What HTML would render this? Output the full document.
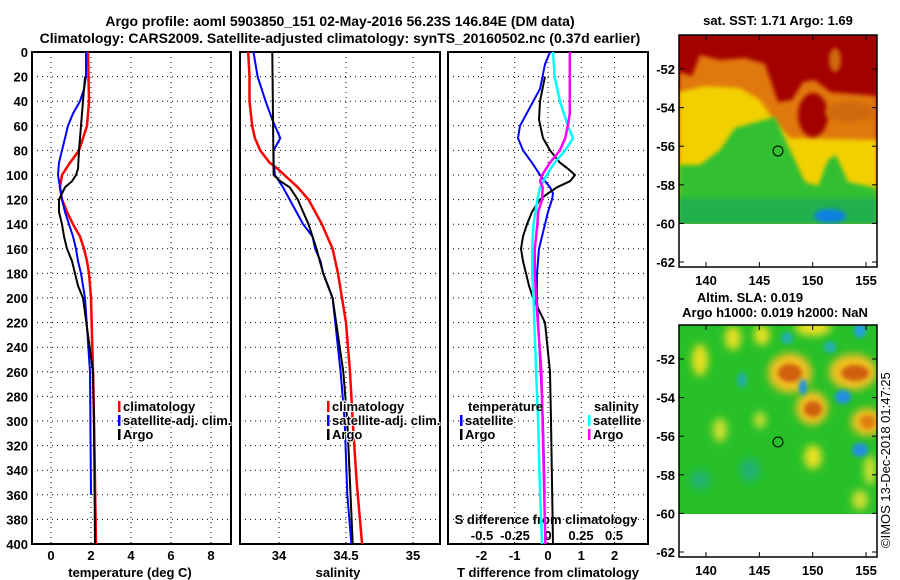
<!DOCTYPE html>
<html><head><meta charset="utf-8"><style>
body{margin:0;background:#fff;width:900px;height:580px;overflow:hidden}
svg{display:block;font-family:"Liberation Sans",sans-serif;font-weight:bold}
</style></head><body>
<svg id="c" width="900" height="580" viewBox="0 0 900 580">
<defs>
<filter id="bl" x="-50%" y="-50%" width="200%" height="200%"><feGaussianBlur stdDeviation="4"/></filter>
<filter id="bl2" x="-50%" y="-50%" width="200%" height="200%"><feGaussianBlur stdDeviation="2"/></filter>
<clipPath id="m1"><rect x="679" y="35" width="198" height="189"/></clipPath>
<clipPath id="m2"><rect x="679" y="325" width="198" height="189"/></clipPath>
</defs>
<text x="340" y="26" font-size="14" text-anchor="middle">Argo profile: aoml 5903850_151 02-May-2016 56.23S 146.84E (DM data)</text>
<text x="340" y="43" font-size="14" text-anchor="middle">Climatology: CARS2009. Satellite-adjusted climatology: synTS_20160502.nc (0.37d earlier)</text>
<g id="g"></g>
</svg>
<script>
// depth axis
const depthTicks=[0,20,40,60,80,100,120,140,160,180,200,220,240,260,280,300,320,340,360,380,400];
// panel 1 temperature
const tTicks=[0,2,4,6,8];
const tClimD=[0,40,60,70,80,90,100,110,120,130,140,150,160,170,180,200,260,300,400];
const tClimV=[1.85,1.9,1.8,1.6,1.4,0.95,0.55,0.45,0.55,0.8,1.1,1.45,1.65,1.8,1.9,2.0,2.1,2.15,2.25];
const tSatD=[0,20,30,40,50,60,70,80,90,100,110,120,130,140,150,160,170,180,200,260,360];
const tSatV=[1.75,1.75,1.65,1.45,1.1,0.85,0.7,0.55,0.4,0.35,0.45,0.55,0.7,0.9,1.1,1.25,1.35,1.5,1.7,1.95,2.0];
const tArgD=[20,40,60,80,95,100,105,110,115,120,130,140,150,160,170,180,190,200,260,300,400];
const tArgV=[1.7,1.6,1.5,1.4,1.35,1.25,1.05,0.7,0.55,0.4,0.4,0.55,0.65,0.8,1.05,1.2,1.35,1.6,2.1,2.15,2.2];
// panel 2 salinity
const sTicks=[34,34.5,35];
const sClimD=[0,20,40,60,70,80,90,95,100,110,120,130,140,150,160,170,180,200,220,260,300,350,400];
const sClimV=[33.77,33.78,33.78,33.80,33.82,33.86,33.93,33.99,34.04,34.14,34.22,34.27,34.32,34.36,34.40,34.42,34.44,34.47,34.5,34.53,34.55,34.58,34.62];
const sSatD=[0,20,40,55,70,80,90,100,110,120,130,140,150,160,170,180,200,260,300,360,400];
const sSatV=[33.81,33.84,33.90,33.95,34.01,33.96,33.96,33.97,34.03,34.08,34.13,34.18,34.25,34.27,34.31,34.33,34.40,34.46,34.49,34.51,34.54];
const sArgD=[0,100,105,110,120,130,140,150,160,180,200,260,300,400];
const sArgV=[33.95,33.96,34.01,34.08,34.14,34.18,34.22,34.25,34.28,34.33,34.40,34.48,34.51,34.55];
// panel 3 differences
const dtTicks=[-2,-1,0,1,2];
const dsTicks=[-0.5,-0.25,0,0.25,0.5];
const dtSatD=[0,10,30,45,60,70,80,90,100,110,115,120,130,140,150,160,180,200,300,360];
const dtSatV=[0.06,-0.09,-0.24,-0.54,-0.84,-0.9,-0.75,-0.48,-0.24,0.06,0.15,0.12,0,-0.09,-0.18,-0.27,-0.33,-0.33,-0.15,-0.1];
const dtArgD=[20,40,55,70,80,90,95,100,105,110,115,120,130,140,150,160,170,180,190,200,220,260,300,400];
const dtArgV=[-0.09,-0.24,-0.27,-0.15,0.06,0.36,0.6,0.81,0.66,0.27,0,-0.24,-0.48,-0.63,-0.75,-0.81,-0.75,-0.66,-0.57,-0.45,-0.09,0.06,0.09,0.15];
const dsSatD=[0,20,40,60,70,80,90,100,110,120,140,160,180,200,260,300,360,400];
const dsSatV=[0.038,0.05,0.09,0.15,0.19,0.13,0.05,-0.01,-0.06,-0.08,-0.11,-0.12,-0.12,-0.11,-0.09,-0.075,-0.06,-0.045];
const dsArgD=[0,20,50,60,70,80,90,100,105,110,120,130,140,160,180,200,260,400];
const dsArgV=[0.165,0.165,0.165,0.15,0.13,0.09,0.015,-0.045,-0.06,-0.04,-0.045,-0.075,-0.08,-0.1,-0.1,-0.09,-0.05,-0.02];
// map axes
const latTicks=[-52,-54,-56,-58,-60,-62];
const lonTicks=[140,145,150,155];

const NS='http://www.w3.org/2000/svg',G=document.getElementById('g');
function el(t,a,p){const e=document.createElementNS(NS,t);for(const k in a)e.setAttribute(k,a[k]);(p||G).appendChild(e);return e;}
const Y0=52,Y1=544;
const yD=d=>Y0+(Y1-Y0)*d/400;
const xT=v=>51+20*v, xS=v=>279+134*(v-34), xDT=v=>548+33.3*v, xDS=v=>548+132*v;

function frame(x0,x1,name){
  let r=el('rect',{x:x0,y:Y0,width:x1-x0,height:Y1-Y0,fill:'none',stroke:'#000','stroke-width':2});
  
  depthTicks.forEach(d=>{if(d>0&&d<400){let l=el('line',{x1:x0,x2:x1,y1:yD(d),y2:yD(d),stroke:'#000','stroke-dasharray':'1 4'});
    }});
}
function vgrid(x,name){let l=el('line',{x1:x,x2:x,y1:Y0,y2:Y1,stroke:'#000','stroke-dasharray':'1 4'});
  }
function txt(x,y,s,o){let t=el('text',Object.assign({x:x,y:y,'font-size':13},o||{}));t.textContent=s;return t;}
function line(D,V,fx,col,name,w){
  const pts=D.map((d,i)=>fx(V[i]).toFixed(1)+','+yD(d).toFixed(1)).join(' ');
  let p=el('polyline',{points:pts,fill:'none',stroke:col,'stroke-width':w||2,'stroke-linejoin':'round'});
  
}
frame(32,231,'temperature-panel');frame(240,440,'salinity-panel');frame(448,648,'difference-panel');
depthTicks.forEach(d=>{let t=txt(28,yD(d)+5,String(d),{'text-anchor':'end'});
  });
tTicks.forEach(v=>{vgrid(xT(v),'temperature-gridline');let t=txt(xT(v),560,String(v),{'text-anchor':'middle'});
  });
sTicks.forEach(v=>{vgrid(xS(v),'salinity-gridline');let t=txt(xS(v),560,String(v),{'text-anchor':'middle'});
  });
dtTicks.forEach(v=>{vgrid(xDT(v),'t-difference-gridline');let t=txt(xDT(v),560,String(v),{'text-anchor':'middle'});
  });
dsTicks.forEach(v=>{let t=txt(xDS(v),540,String(v),{'text-anchor':'middle'});
  });
let a;
a=txt(130,577,'temperature (deg C)',{'text-anchor':'middle'});
a=txt(338,577,'salinity',{'text-anchor':'middle'});
a=txt(548,577,'T difference from climatology',{'text-anchor':'middle'});
a=txt(546,524,'S difference from climatology',{'text-anchor':'middle'});

line(tClimD,tClimV,xT,'#f00','temperature-climatology-line',2.5);
line(tSatD,tSatV,xT,'#00f','temperature-satellite-line');
line(tArgD,tArgV,xT,'#000','temperature-argo-line');
line(sClimD,sClimV,xS,'#f00','salinity-climatology-line',2.5);
line(sSatD,sSatV,xS,'#00f','salinity-satellite-line');
line(sArgD,sArgV,xS,'#000','salinity-argo-line');
line(dtSatD,dtSatV,xDT,'#00f','t-difference-satellite-line');
line(dtArgD,dtArgV,xDT,'#000','t-difference-argo-line');
line(dsSatD,dsSatV,xDS,'#0ff','s-difference-satellite-line',2.5);
line(dsArgD,dsArgV,xDS,'#f0f','s-difference-argo-line',2.5);

function leg(x,y,col,s,name){let r=el('rect',{x:x,y:y-10,width:2.5,height:11,fill:col});
  
  let t=txt(x+5,y,s);
  t.setAttribute('stroke','#fff');t.setAttribute('stroke-width','2');t.setAttribute('paint-order','stroke');}
leg(118,411,'#f00','climatology','legend-climatology');leg(118,425,'#00f','satellite-adj. clim.','legend-satellite-adj');leg(118,439,'#000','Argo','legend-argo');
leg(327,411,'#f00','climatology','legend-climatology-2');leg(327,425,'#00f','satellite-adj. clim.','legend-satellite-adj-2');leg(327,439,'#000','Argo','legend-argo-2');
a=txt(468,411,'temperature');
a=txt(594,411,'salinity');
leg(460,425,'#00f','satellite','legend-t-satellite');leg(460,439,'#000','Argo','legend-t-argo');
leg(588,425,'#0ff','satellite','legend-s-satellite');leg(588,439,'#f0f','Argo','legend-s-argo');

// maps
function mapAxes(top,name){
  const yl=lat=>top+34+(-52-lat)/2*38.6;
  let r=el('rect',{x:679,y:top,width:198,height:232,fill:'none',stroke:'#000','stroke-width':1.5});
  
  latTicks.forEach(v=>{const y=yl(v);el('line',{x1:679,x2:684,y1:y,y2:y,stroke:'#000'});el('line',{x1:872,x2:877,y1:y,y2:y,stroke:'#000'});
    let t=txt(675,y+5,String(v),{'text-anchor':'end'});});
  lonTicks.forEach(v=>{const x=706+(v-140)*10.67;el('line',{x1:x,x2:x,y1:top+232,y2:top+227,stroke:'#000'});el('line',{x1:x,x2:x,y1:top,y2:top+5,stroke:'#000'});
    let t=txt(x,top+250,String(v),{'text-anchor':'middle'});});
}
const m1=el('g',{'clip-path':'url(#m1)'});
el('rect',{x:679,y:35,width:198,height:189,fill:'#a30000'},m1);
el('polygon',{points:'679,72 692,76 700,55 720,60 745,58 765,64 778,102 792,100 803,82 815,80 830,92 877,96 877,224 679,224',fill:'#e07810',filter:'url(#bl2)'},m1);
el('polygon',{points:'679,92 705,86 740,88 760,100 775,122 790,138 877,140 877,224 679,224',fill:'#f2d000',filter:'url(#bl2)'},m1);
el('polygon',{points:'679,165 700,165 720,150 735,128 775,117 790,150 805,182 818,186 828,160 836,155 848,182 877,188 877,224 679,224',fill:'#30c030',filter:'url(#bl2)'},m1);
el('rect',{x:679,y:198,width:198,height:26,fill:'#20b050',filter:'url(#bl2)'},m1);
el('ellipse',{cx:813,cy:115,rx:15,ry:22,fill:'#a30000',filter:'url(#bl2)'},m1);
el('ellipse',{cx:850,cy:112,rx:25,ry:10,fill:'#d06a10',filter:'url(#bl2)'},m1);
el('ellipse',{cx:830,cy:216,rx:16,ry:7,fill:'#1080e0',filter:'url(#bl2)'},m1);
el('ellipse',{cx:835,cy:60,rx:6,ry:12,fill:'#d06a10',filter:'url(#bl2)'},m1);
mapAxes(35,'sst-map');
el('circle',{cx:778,cy:151,r:5,fill:'none',stroke:'#000'});
a=txt(778,25,'sat. SST: 1.71 Argo: 1.69',{'text-anchor':'middle','font-size':13});

const m2=el('g',{'clip-path':'url(#m2)'});
el('rect',{x:679,y:325,width:198,height:189,fill:'#28c028'},m2);
[[700,360,8,16,'#e8e020'],[733,338,8,12,'#e8e020'],[762,335,8,10,'#e8e020'],[813,328,18,8,'#e8e020'],[720,430,7,12,'#d0e030'],[813,457,9,12,'#e8e020'],[790,373,22,20,'#f0c020'],[853,372,24,18,'#f0c020'],[812,408,16,17,'#f0c020'],[867,422,16,14,'#f0c020'],[760,420,6,8,'#d0e030'],[870,470,6,15,'#d0e030'],[860,500,8,10,'#d0e030'],[700,480,10,10,'#20b070'],[750,470,10,12,'#20b070']].forEach(b=>el('ellipse',{cx:b[0],cy:b[1],rx:b[2],ry:b[3],fill:b[4],filter:'url(#bl)'},m2));
[[790,373,12,9,'#d06010'],[855,373,14,8,'#d06010'],[813,409,9,8,'#d06010'],[868,422,8,7,'#e08010'],[787,338,6,6,'#20b0b0'],[803,387,4,8,'#2090e0'],[843,397,8,7,'#2090e0'],[860,450,8,7,'#2090e0'],[860,330,6,8,'#20a0e0'],[830,347,6,6,'#20b0b0'],[742,380,5,8,'#20b0a0']].forEach(b=>el('ellipse',{cx:b[0],cy:b[1],rx:b[2],ry:b[3],fill:b[4],filter:'url(#bl2)'},m2));
mapAxes(325,'sla-map');
el('circle',{cx:778,cy:442,r:5,fill:'none',stroke:'#000'});
a=txt(750,302,'Altim. SLA: 0.019',{'text-anchor':'middle','font-size':13});
a=txt(775,317,'Argo h1000: 0.019 h2000: NaN',{'text-anchor':'middle','font-size':13});
a=txt(0,0,'©IMOS 13-Dec-2018 01:47:25',{'font-size':13,'font-weight':'normal',transform:'translate(890,548) rotate(-90)'});
</script>
</body></html>
